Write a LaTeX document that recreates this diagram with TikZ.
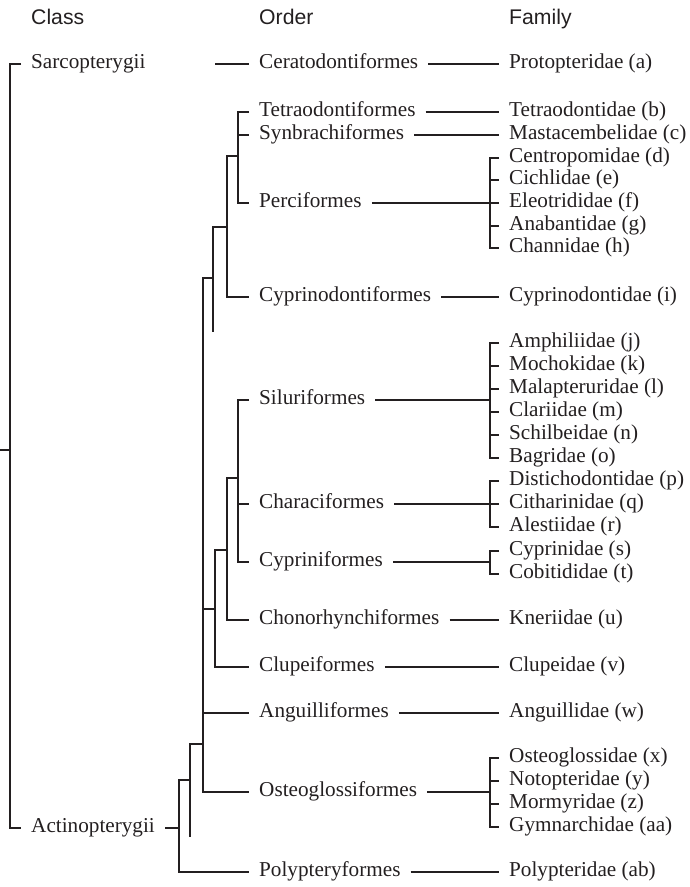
\documentclass[tikz,border=0pt]{standalone}
\usepackage{fontspec}
\setmainfont{Liberation Serif}
\newfontfamily\headfont{Liberation Sans}
\usepackage{tikz}
\usetikzlibrary{positioning}
\definecolor{ink}{RGB}{35,31,32}
\tikzset{
  branch/.style={draw=ink, line width=1.7pt},
  taxon/.style={anchor=mid west, inner xsep=10pt, inner ysep=0pt, text=ink, font=\fontsize{21.2}{25}\selectfont},
  heading/.style={anchor=base west, inner sep=0pt, text=ink, font=\headfont\fontsize{21.2}{25}\selectfont}
}
\begin{document}
\fontsize{21.2}{25}\selectfont
\begin{tikzpicture}[x=1pt, y=-1pt]
  \useasboundingbox (0,0) rectangle (690,887);
  \node[heading] (hclass) at (31,24) {Class};
  \node[heading] (horder) at (259,24) {Order};
  \node[heading] (hfam) at (509,24) {Family};
  \node[taxon] (sarc) at (21,64) {Sarcopterygii};
  \node[taxon] (actino) at (21,828) {Actinopterygii};
  \node[taxon] (cera) at (249,64) {Ceratodontiformes};
  \node[taxon] (tetra) at (249,112) {Tetraodontiformes};
  \node[taxon] (synb) at (249,135) {Synbrachiformes};
  \node[taxon] (perc) at (249,203) {Perciformes};
  \node[taxon] (cypd) at (249,297) {Cyprinodontiformes};
  \node[taxon] (silu) at (249,400) {Siluriformes};
  \node[taxon] (chara) at (249,504) {Characiformes};
  \node[taxon] (cypr) at (249,562) {Cypriniformes};
  \node[taxon] (chon) at (249,620) {Chonorhynchiformes};
  \node[taxon] (clup) at (249,667) {Clupeiformes};
  \node[taxon] (angu) at (249,713) {Anguilliformes};
  \node[taxon] (osteo) at (249,792) {Osteoglossiformes};
  \node[taxon] (poly) at (249,872) {Polypteryformes};
  \node[taxon] (fa) at (499,64) {Protopteridae (a)};
  \node[taxon] (fb) at (499,112) {Tetraodontidae (b)};
  \node[taxon] (fc) at (499,135) {Mastacembelidae (c)};
  \node[taxon] (fd) at (499,158) {Centropomidae (d)};
  \node[taxon] (fe) at (499,180) {Cichlidae (e)};
  \node[taxon] (ff) at (499,203) {Eleotrididae (f)};
  \node[taxon] (fg) at (499,226) {Anabantidae (g)};
  \node[taxon] (fh) at (499,248) {Channidae (h)};
  \node[taxon] (fi) at (499,297) {Cyprinodontidae (i)};
  \node[taxon] (fj) at (499,343) {Amphiliidae (j)};
  \node[taxon] (fk) at (499,366) {Mochokidae (k)};
  \node[taxon] (fl) at (499,389) {Malapteruridae (l)};
  \node[taxon] (fm) at (499,412) {Clariidae (m)};
  \node[taxon] (fn) at (499,435) {Schilbeidae (n)};
  \node[taxon] (fo) at (499,458) {Bagridae (o)};
  \node[taxon] (fp) at (499,481) {Distichodontidae (p)};
  \node[taxon] (fq) at (499,504) {Citharinidae (q)};
  \node[taxon] (fr) at (499,527) {Alestiidae (r)};
  \node[taxon] (fs) at (499,551) {Cyprinidae (s)};
  \node[taxon] (ft) at (499,574) {Cobitididae (t)};
  \node[taxon] (fu) at (499,620) {Kneriidae (u)};
  \node[taxon] (fv) at (499,667) {Clupeidae (v)};
  \node[taxon] (fw) at (499,713) {Anguillidae (w)};
  \node[taxon] (fx) at (499,758) {Osteoglossidae (x)};
  \node[taxon] (fy) at (499,781) {Notopteridae (y)};
  \node[taxon] (fz) at (499,804) {Mormyridae (z)};
  \node[taxon] (faa) at (499,827) {Gymnarchidae (aa)};
  \node[taxon] (fab) at (499,872) {Polypteridae (ab)};
  \coordinate (root) at (0,450);
  \coordinate (kclass) at (10,450);
  \coordinate (jcera) at (215,64);
  \coordinate (jperc) at (238,156);
  \coordinate (jcypd) at (227,227);
  \coordinate (jacan) at (213,278);
  \coordinate (jacanend) at (213,332);
  \coordinate (jteleo) at (203,744);
  \coordinate (jclup) at (215,609);
  \coordinate (jchon) at (227,550);
  \coordinate (jsilu) at (238,478);
  \coordinate (jneo) at (190,780);
  \coordinate (jneoend) at (190,837);
  \coordinate (jactino) at (179,828);
  \coordinate (bperc) at (490,203);
  \coordinate (bsilu) at (490,400);
  \coordinate (bchara) at (490,504);
  \coordinate (bcypr) at (490,562);
  \coordinate (bosteo) at (490,792);
  \draw[branch] (root) -- (kclass);
  \draw[branch] (sarc.mid west) -| (kclass) |- (actino.mid west);
  \draw[branch] (actino.mid east) -- (jactino);
  \draw[branch] (jneo) -| (jactino) |- (poly.mid west);
  \draw[branch] (jteleo) -| (jneoend);
  \draw[branch] (jacan) -| (jteleo) |- (osteo.mid west);
  \draw[branch] (jteleo |- angu.mid west) -- (angu.mid west);
  \draw[branch] (jteleo |- jclup) -- (jclup);
  \draw[branch] (jchon) -| (jclup) |- (clup.mid west);
  \draw[branch] (jsilu) -| (jchon) |- (chon.mid west);
  \draw[branch] (silu.mid west) -| (jsilu) |- (cypr.mid west);
  \draw[branch] (jsilu |- chara.mid west) -- (chara.mid west);
  \draw[branch] (jcypd) -| (jacanend);
  \draw[branch] (jperc) -| (jcypd) |- (cypd.mid west);
  \draw[branch] (tetra.mid west) -| (jperc) |- (perc.mid west);
  \draw[branch] (jperc |- synb.mid west) -- (synb.mid west);
  \draw[branch] (jcera) -- (cera.mid west);
  \draw[branch] (cera.mid east) -- (fa.mid west);
  \draw[branch] (tetra.mid east) -- (fb.mid west);
  \draw[branch] (synb.mid east) -- (fc.mid west);
  \draw[branch] (perc.mid east) -- (ff.mid west);
  \draw[branch] (fd.mid west) -| (bperc) |- (fh.mid west);
  \draw[branch] (bperc |- fe.mid west) -- (fe.mid west);
  \draw[branch] (bperc |- fg.mid west) -- (fg.mid west);
  \draw[branch] (cypd.mid east) -- (fi.mid west);
  \draw[branch] (silu.mid east) -- (bsilu);
  \draw[branch] (fj.mid west) -| (bsilu) |- (fo.mid west);
  \draw[branch] (bsilu |- fk.mid west) -- (fk.mid west);
  \draw[branch] (bsilu |- fl.mid west) -- (fl.mid west);
  \draw[branch] (bsilu |- fm.mid west) -- (fm.mid west);
  \draw[branch] (bsilu |- fn.mid west) -- (fn.mid west);
  \draw[branch] (chara.mid east) -- (fq.mid west);
  \draw[branch] (fp.mid west) -| (bchara) |- (fr.mid west);
  \draw[branch] (cypr.mid east) -- (bcypr);
  \draw[branch] (fs.mid west) -| (bcypr) |- (ft.mid west);
  \draw[branch] (chon.mid east) -- (fu.mid west);
  \draw[branch] (clup.mid east) -- (fv.mid west);
  \draw[branch] (angu.mid east) -- (fw.mid west);
  \draw[branch] (osteo.mid east) -- (bosteo);
  \draw[branch] (fx.mid west) -| (bosteo) |- (faa.mid west);
  \draw[branch] (bosteo |- fy.mid west) -- (fy.mid west);
  \draw[branch] (bosteo |- fz.mid west) -- (fz.mid west);
  \draw[branch] (poly.mid east) -- (fab.mid west);
\end{tikzpicture}
\end{document}
